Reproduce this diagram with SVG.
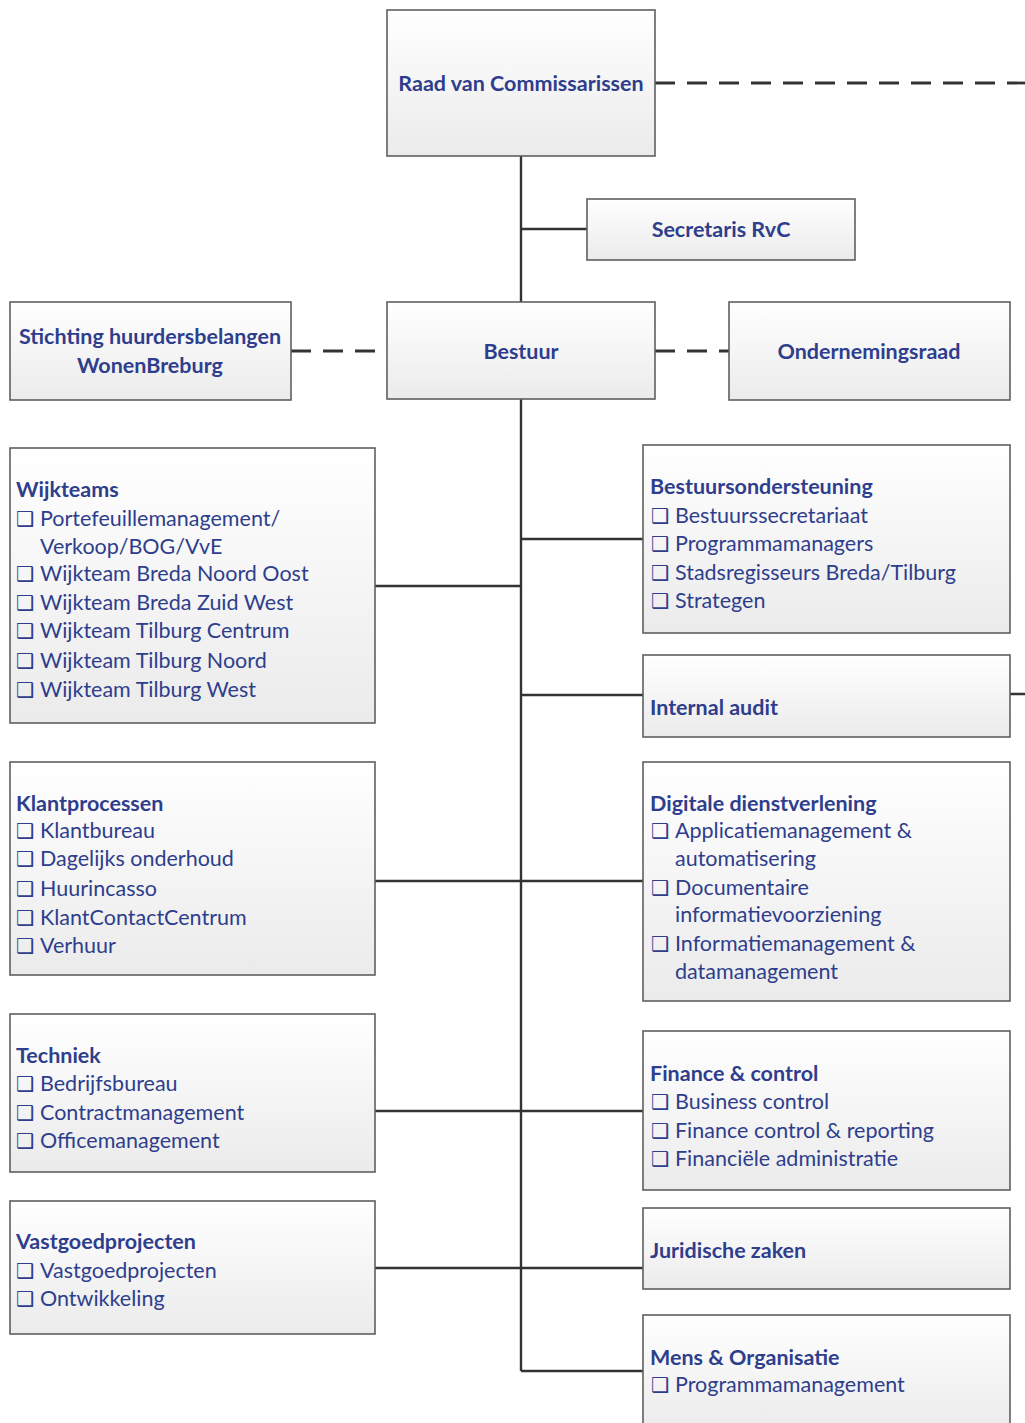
<svg xmlns="http://www.w3.org/2000/svg" width="1025" height="1423" viewBox="0 0 1025 1423">
<defs>
<linearGradient id="g" x1="0" y1="0" x2="0" y2="1">
<stop offset="0" stop-color="#ffffff"/>
<stop offset="1" stop-color="#ebebeb"/>
</linearGradient>
</defs>
<style>
.box{fill:url(#g);stroke:#5f5f5f;stroke-width:1.6}
.t{font-family:Lato,"Liberation Sans",sans-serif;font-size:21.5px;fill:#2e3e8c}
.b{font-weight:bold}
.ck{font-family:"DejaVu Sans",sans-serif;font-size:20.5px;font-weight:bold}
.ln{stroke:#333;stroke-width:2.4;fill:none}
.dl{stroke:#333;stroke-width:2.8;fill:none;stroke-dasharray:20 12}
</style>
<rect width="1025" height="1423" fill="#fff"/>
<g id="connectors">
<path class="dl" d="M655 83H1025"/>
<path class="ln" d="M521 156V302M521 229H587M521 399V1371"/>
<path class="dl" d="M291 351H387M655 351H729"/>
<path class="ln" d="M375 586H521M521 539H643M521 695H643M1010 694H1025M375 881H643M375 1111H643M375 1268H643M521 1371H643"/>
</g>
<g id="raad"><rect class="box" x="387" y="10" width="268" height="146"/><text class="t b" x="521" y="91" text-anchor="middle">Raad van Commissarissen</text></g>
<g id="secretaris"><rect class="box" x="587" y="199" width="268" height="61"/><text class="t b" x="721" y="237" text-anchor="middle">Secretaris RvC</text></g>
<g id="bestuur"><rect class="box" x="387" y="302" width="268" height="97"/><text class="t b" x="521" y="359" text-anchor="middle">Bestuur</text></g>
<g id="stichting"><rect class="box" x="10" y="302" width="281" height="98"/><text class="t b" x="150" y="344" text-anchor="middle">Stichting huurdersbelangen</text><text class="t b" x="150" y="373" text-anchor="middle">WonenBreburg</text></g>
<g id="ondernemingsraad"><rect class="box" x="729" y="302" width="281" height="98"/><text class="t b" x="869" y="359" text-anchor="middle">Ondernemingsraad</text></g>
<g id="wijkteams"><rect class="box" x="10" y="448" width="365" height="275"/>
<text class="t b" x="16" y="497">Wijkteams</text>
<text class="t" y="526"><tspan class="ck" x="16">❑</tspan><tspan x="40">Portefeuillemanagement/</tspan></text>
<text class="t" x="40" y="554">Verkoop/BOG/VvE</text>
<text class="t" y="581"><tspan class="ck" x="16">❑</tspan><tspan x="40">Wijkteam Breda Noord Oost</tspan></text>
<text class="t" y="610"><tspan class="ck" x="16">❑</tspan><tspan x="40">Wijkteam Breda Zuid West</tspan></text>
<text class="t" y="638"><tspan class="ck" x="16">❑</tspan><tspan x="40">Wijkteam Tilburg Centrum</tspan></text>
<text class="t" y="668"><tspan class="ck" x="16">❑</tspan><tspan x="40">Wijkteam Tilburg Noord</tspan></text>
<text class="t" y="697"><tspan class="ck" x="16">❑</tspan><tspan x="40">Wijkteam Tilburg West</tspan></text>
</g>
<g id="bestuursondersteuning"><rect class="box" x="643" y="445" width="367" height="188"/>
<text class="t b" x="650" y="494">Bestuursondersteuning</text>
<text class="t" y="523"><tspan class="ck" x="651">❑</tspan><tspan x="675">Bestuurssecretariaat</tspan></text>
<text class="t" y="551"><tspan class="ck" x="651">❑</tspan><tspan x="675">Programmamanagers</tspan></text>
<text class="t" y="580"><tspan class="ck" x="651">❑</tspan><tspan x="675">Stadsregisseurs Breda/Tilburg</tspan></text>
<text class="t" y="608"><tspan class="ck" x="651">❑</tspan><tspan x="675">Strategen</tspan></text>
</g>
<g id="internal-audit"><rect class="box" x="643" y="655" width="367" height="82"/><text class="t b" x="650" y="715">Internal audit</text></g>
<g id="klantprocessen"><rect class="box" x="10" y="762" width="365" height="213"/>
<text class="t b" x="16" y="811">Klantprocessen</text>
<text class="t" y="838"><tspan class="ck" x="16">❑</tspan><tspan x="40">Klantbureau</tspan></text>
<text class="t" y="866"><tspan class="ck" x="16">❑</tspan><tspan x="40">Dagelijks onderhoud</tspan></text>
<text class="t" y="896"><tspan class="ck" x="16">❑</tspan><tspan x="40">Huurincasso</tspan></text>
<text class="t" y="925"><tspan class="ck" x="16">❑</tspan><tspan x="40">KlantContactCentrum</tspan></text>
<text class="t" y="953"><tspan class="ck" x="16">❑</tspan><tspan x="40">Verhuur</tspan></text>
</g>
<g id="digitale-dienstverlening"><rect class="box" x="643" y="762" width="367" height="239"/>
<text class="t b" x="650" y="811">Digitale dienstverlening</text>
<text class="t" y="838"><tspan class="ck" x="651">❑</tspan><tspan x="675">Applicatiemanagement &amp;</tspan></text>
<text class="t" x="675" y="866">automatisering</text>
<text class="t" y="895"><tspan class="ck" x="651">❑</tspan><tspan x="675">Documentaire</tspan></text>
<text class="t" x="675" y="922">informatievoorziening</text>
<text class="t" y="951"><tspan class="ck" x="651">❑</tspan><tspan x="675">Informatiemanagement &amp;</tspan></text>
<text class="t" x="675" y="979">datamanagement</text>
</g>
<g id="techniek"><rect class="box" x="10" y="1014" width="365" height="158"/>
<text class="t b" x="16" y="1063">Techniek</text>
<text class="t" y="1091"><tspan class="ck" x="16">❑</tspan><tspan x="40">Bedrijfsbureau</tspan></text>
<text class="t" y="1120"><tspan class="ck" x="16">❑</tspan><tspan x="40">Contractmanagement</tspan></text>
<text class="t" y="1148"><tspan class="ck" x="16">❑</tspan><tspan x="40">Officemanagement</tspan></text>
</g>
<g id="finance-control"><rect class="box" x="643" y="1031" width="367" height="159"/>
<text class="t b" x="650" y="1081">Finance &amp; control</text>
<text class="t" y="1109"><tspan class="ck" x="651">❑</tspan><tspan x="675">Business control</tspan></text>
<text class="t" y="1138"><tspan class="ck" x="651">❑</tspan><tspan x="675">Finance control &amp; reporting</tspan></text>
<text class="t" y="1166"><tspan class="ck" x="651">❑</tspan><tspan x="675">Financiële administratie</tspan></text>
</g>
<g id="vastgoedprojecten"><rect class="box" x="10" y="1201" width="365" height="133"/>
<text class="t b" x="16" y="1249">Vastgoedprojecten</text>
<text class="t" y="1278"><tspan class="ck" x="16">❑</tspan><tspan x="40">Vastgoedprojecten</tspan></text>
<text class="t" y="1306"><tspan class="ck" x="16">❑</tspan><tspan x="40">Ontwikkeling</tspan></text>
</g>
<g id="juridische-zaken"><rect class="box" x="643" y="1208" width="367" height="81"/><text class="t b" x="650" y="1258">Juridische zaken</text></g>
<g id="mens-organisatie"><rect class="box" x="643" y="1315" width="367" height="120"/>
<text class="t b" x="650" y="1365">Mens &amp; Organisatie</text>
<text class="t" y="1392"><tspan class="ck" x="651">❑</tspan><tspan x="675">Programmamanagement</tspan></text>
</g>
</svg>
